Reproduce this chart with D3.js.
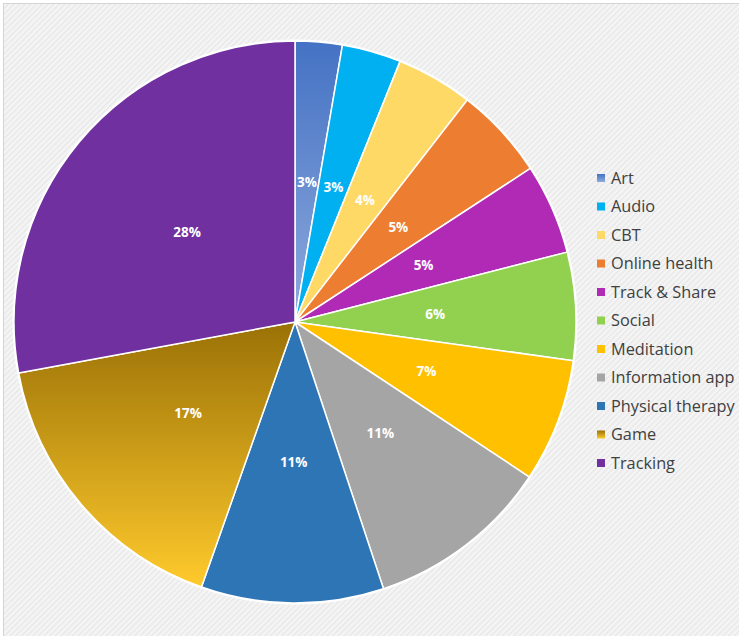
<!DOCTYPE html>
<html lang="en">
<head>
	<meta charset="utf-8"/>
	<title>App categories</title>
	<script src="https://d3js.org/d3.v7.min.js"></script>
	<style>
	body { margin: 0; background: #fff; }
	.slices path { stroke: #fff; stroke-width: 1.5px; stroke-linejoin: round; }
	.labels text { fill: #fff; font-family: "Open Sans", sans-serif; font-weight: bold; font-size: 13.5px; }
	.legend text { fill: #404040; font-family: "Open Sans", sans-serif; font-size: 16.3px; }
	</style>
</head>
<body>
<svg width="739" height="636" id="chart"></svg>

<script>
// data, clockwise from 12 o'clock
var categories = ["Art", "Audio", "CBT", "Online health", "Track & Share", "Social",
	"Meditation", "Information app", "Physical therapy", "Game", "Tracking"];
var shares = [2.7, 3.4, 4.4, 5.3, 5.2, 6.2, 7.1, 10.6, 10.5, 16.7, 27.9];
var colors = ["#5b7fcc", "#00b0f0", "#ffd966", "#ed7d31", "#b02ab6", "#92d050",
	"#ffc000", "#a5a5a5", "#2e75b6", "#c49a14", "#7030a0"];

var svg = d3.select("#chart"),
	cx = 295, cy = 322, radius = 281;

// hatched background
var defs = svg.append("defs");
var hatch = defs.append("pattern")
	.attr("id", "hatch")
	.attr("width", 4).attr("height", 4)
	.attr("patternUnits", "userSpaceOnUse")
	.attr("patternTransform", "rotate(45)");
hatch.append("rect").attr("width", 4).attr("height", 4).attr("fill", "#f5f5f5");
hatch.append("rect").attr("width", 1.5).attr("height", 4).attr("fill", "#e8e8e8");

svg.append("rect")
	.attr("x", 3.5).attr("y", 3.5)
	.attr("width", 739).attr("height", 636)
	.attr("fill", "url(#hatch)")
	.attr("stroke", "#d4d4d4");

// gradients for Art and Game slices
var grads = {
	"Art": ["#4472c4", "#8eaadc"],
	"Game": ["#9a7106", "#ffca2c"]
};
Object.keys(grads).forEach(function(k, i) {
	var lg = defs.append("linearGradient")
		.attr("id", "grad" + i)
		.attr("x1", 0).attr("y1", 0).attr("x2", 0).attr("y2", 1);
	lg.append("stop").attr("offset", "0%").attr("stop-color", grads[k][0]);
	lg.append("stop").attr("offset", "100%").attr("stop-color", grads[k][1]);
	grads[k].id = "url(#grad" + i + ")";
});

var color = d3.scaleOrdinal().domain(categories).range(colors);
function fillFor(name) { return grads[name] ? grads[name].id : color(name); }

var data = categories.map(function(c, i) { return {name: c, value: shares[i]}; });

var pie = d3.pie()
	.sort(null)
	.value(function(d) { return d.value; });

var arc = d3.arc().innerRadius(0).outerRadius(radius);
var labelArc = d3.arc().innerRadius(0).outerRadius(radius);

var g = svg.append("g").attr("transform", "translate(" + cx + "," + cy + ")");

g.append("circle")
	.attr("r", radius + 1.5)
	.attr("fill", "#fff");

g.append("g")
	.attr("class", "slices")
	.selectAll("path")
	.data(pie(data))
	.enter().append("path")
		.attr("d", arc)
		.attr("fill", function(d) { return fillFor(d.data.name); });

var fmt = function(v) { return Math.round(v) + "%"; };

g.append("g")
	.attr("class", "labels")
	.selectAll("text")
	.data(pie(data))
	.enter().append("text")
		.attr("transform", function(d) { return "translate(" + labelArc.centroid(d) + ")"; })
		.attr("text-anchor", "middle")
		.attr("dy", "0.35em")
		.text(function(d) { return fmt(d.data.value); });

// legend
var ly = d3.scalePoint().domain(categories).range([178, 463]);

var legend = svg.append("g")
	.attr("class", "legend")
	.selectAll("g")
	.data(categories)
	.enter().append("g")
		.attr("transform", function(d) { return "translate(597," + ly(d) + ")"; });

legend.append("rect")
	.attr("x", 0).attr("y", -4)
	.attr("width", 8).attr("height", 8)
	.attr("fill", function(d) { return fillFor(d); });

legend.append("text")
	.attr("x", 14)
	.attr("dy", "0.35em")
	.text(function(d) { return d; });
</script>
</body>
</html>
